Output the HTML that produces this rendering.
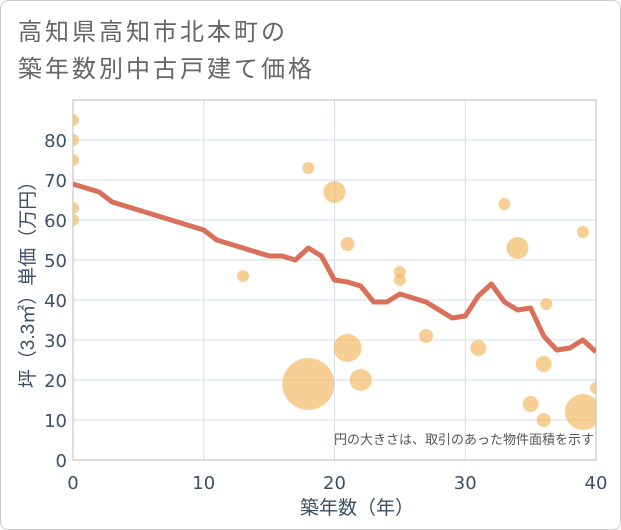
<!DOCTYPE html>
<html><head><meta charset="utf-8"><style>
body{margin:0;background:#fff;font-family:"Liberation Sans","Noto Sans CJK JP",sans-serif}
#wrap{position:relative;width:619px;height:528px;border:1px solid #ccc;border-radius:8px;overflow:hidden;background:#fff}
</style></head><body>
<div id="wrap">
<svg id="c" width="621" height="530" style="position:absolute;left:-1px;top:-1px">
<text x="18" y="40" font-size="24" letter-spacing="3" fill="#666" font-family="Liberation Sans,Noto Sans CJK JP,sans-serif">高知県高知市北本町の</text>
<text x="18" y="77" font-size="24" letter-spacing="3" fill="#666" font-family="Liberation Sans,Noto Sans CJK JP,sans-serif">築年数別中古戸建て価格</text>
</svg>
</div>
<script>
const years=[0,1,2,3,4,5,6,7,8,9,10,11,12,13,14,15,16,17,18,19,20,21,22,23,24,25,26,27,28,29,30,31,32,33,34,35,36,37,38,39,40];
const avgPrice=[69,68,67,64.5,63.5,62.5,61.5,60.5,59.5,58.5,57.5,55,54,53,52,51,51,50,53,51,45,44.5,43.5,39.5,39.5,41.5,40.5,39.5,37.5,35.5,36,41,44,39.5,37.5,38,31,27.5,28,30,27];
const bubbleX=[0,0,0,0,0,18,20,21,13,25,25,33,34,39,36.2,27,31,21,22,18,35,36,36,39,40];
const bubbleY=[85,80,75,63,60,73,67,54,46,47,45,64,53,57,39,31,28,28,20,19,14,24,10,12,18];
const bubbleR=[6,6,6,6,6,6,11,7,6,6,6,6,11,6,6,7,8,14,11,26,8,8,7,18,6];
const xTicks=[0,10,20,30,40];
const yTicks=[0,10,20,30,40,50,60,70,80];
const NS="http://www.w3.org/2000/svg";
const svg=document.getElementById('c');
const L=73,R=596,T=100,B=460;
const FT='DejaVu Sans,Liberation Sans,Noto Sans CJK JP,sans-serif';
const sx=v=>L+(R-L)*v/40, sy=v=>B-(B-140)*v/80;
function mk(t,a,p){const e=document.createElementNS(NS,t);for(const k in a)e.setAttribute(k,a[k]);(p||svg).appendChild(e);return e;}
const clip=mk('clipPath',{id:'pc'});mk('rect',{x:L,y:T,width:R-L,height:B-T},clip);
const grid=mk('g',{});


yTicks.forEach(v=>{
  mk('line',{x1:L,x2:R,y1:sy(v),y2:sy(v),stroke:'#d3deea','stroke-width':1},grid);
  const t=mk('text',{x:L-6,y:sy(v)+7,'text-anchor':'end','font-size':18,fill:'#3d4f66','font-family':FT});
  
  
  t.textContent=v;
});
xTicks.forEach(v=>{
  mk('line',{x1:sx(v),x2:sx(v),y1:T,y2:B,stroke:'#d3deea','stroke-width':1},grid);
  const t=mk('text',{x:sx(v),y:B+29,'text-anchor':'middle','font-size':18,fill:'#3d4f66','font-family':FT});
  
  
  t.textContent=v;
});
mk('rect',{x:L,y:T,width:R-L,height:B-T,fill:'none',stroke:'#bbb','stroke-width':1});
const bg=mk('g',{'clip-path':'url(#pc)'});
bubbleX.forEach((x,i)=>{
  const c=mk('circle',{cx:sx(x),cy:sy(bubbleY[i]),r:bubbleR[i],fill:'#f2b45a','fill-opacity':0.65},bg);
  
  
});
const ln=mk('polyline',{points:years.map((y,i)=>sx(y)+','+sy(avgPrice[i])).join(' '),fill:'none',stroke:'#d9705a','stroke-width':5,'stroke-linejoin':'round','clip-path':'url(#pc)'});


const note=mk('text',{x:594,y:444,'text-anchor':'end','font-size':13,fill:'#555'});


note.textContent='円の大きさは、取引のあった物件面積を示す';
const xt=mk('text',{x:357,y:514,'text-anchor':'middle','font-size':19,fill:'#3d4f66'});


xt.textContent='築年数（年）';
const yt=mk('text',{x:0,y:0,'text-anchor':'middle','font-size':19,fill:'#3d4f66',transform:'translate(34,'+((T+B)/2)+') rotate(-90)'});


yt.textContent='坪（3.3㎡）単価（万円）';
</script>
</body></html>
